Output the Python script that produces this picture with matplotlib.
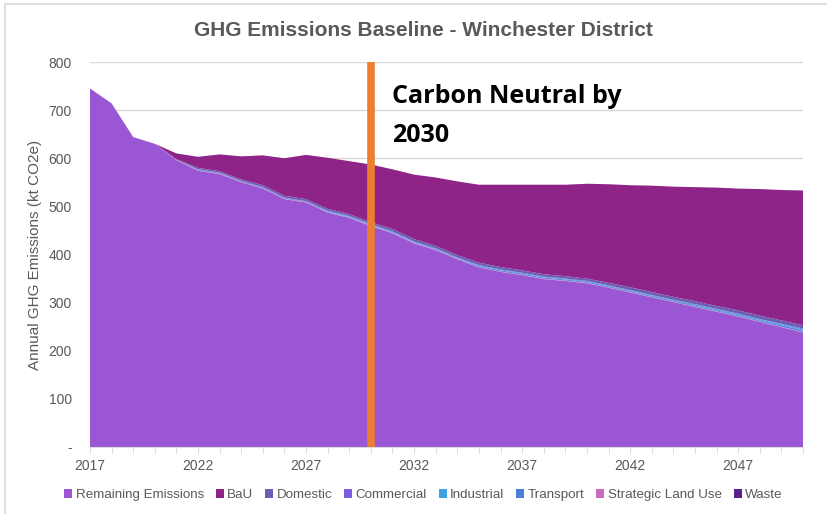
import matplotlib
matplotlib.use("Agg")
import matplotlib.pyplot as plt
from matplotlib.patches import Patch, Rectangle
from matplotlib import font_manager as fm

names = {f.name for f in fm.fontManager.ttflist}
base_font = "Liberation Sans Narrow" if "Liberation Sans Narrow" in names else "Liberation Sans"
plt.rcParams['font.family'] = [base_font, 'DejaVu Sans']

years = list(range(2017, 2051))
remaining = [745, 714, 644, 630, 596, 574, 567, 550, 537, 515, 508, 487, 476, 459, 444, 423, 409,
             390, 373, 364, 357, 349, 345, 340, 331, 321, 311, 301, 291, 281, 271, 260, 249, 238]
strategic_land_use = [0, 0, 0, 0, 1, 1, 1, 1, 1, 1, 1, 1, 1, 1, 1, 1, 1,
                      1, 1, 1, 1, 1, 1, 1, 1, 1, 1, 1, 1, 1, 1, 1, 1, 1]
transport = [0, 0, 0, 0, 0, 1, 1, 1, 1, 1, 1, 1, 1, 1, 1, 1, 1,
             1, 2, 2, 2, 2, 2, 2, 2, 2, 2, 2, 2, 2, 2, 2, 3, 3]
industrial = [0, 0, 0, 0, 0, 0, 0, 0, 0, 0, 0, 1, 1, 1, 1, 1, 1,
              1, 1, 1, 1, 1, 1, 1, 1, 1, 1, 1, 2, 2, 2, 2, 2, 2]
commercial = [0, 0, 0, 0, 0, 1, 1, 1, 1, 1, 1, 1, 1, 1, 1, 1, 1,
              1, 1, 1, 1, 1, 1, 1, 1, 1, 1, 1, 1, 1, 1, 1, 1, 2]
domestic = [0, 0, 0, 0, 1, 3, 3, 3, 4, 4, 4, 4, 4, 4, 5, 5, 5,
            5, 5, 5, 5, 5, 5, 5, 5, 6, 6, 6, 6, 6, 7, 7, 7, 7]
waste = [0] * 34
bau = [0, 0, 0, 0, 12, 23, 35, 48, 62, 78, 92, 106, 110, 120, 124, 134, 142,
       153, 162, 171, 178, 186, 190, 197, 205, 212, 221, 229, 237, 246, 253, 263, 271, 280]

legend_names = ["Remaining Emissions", "BaU", "Domestic", "Commercial", "Industrial",
                "Transport", "Strategic Land Use", "Waste"]
colors = {"Remaining Emissions": "#9b57d3", "BaU": "#8e2488", "Domestic": "#6a5fb5",
          "Commercial": "#7b5ee0", "Industrial": "#3ea0e0", "Transport": "#4a7fd8",
          "Strategic Land Use": "#c86cc0", "Waste": "#5a1f8c"}

target_year = 2030
y_ticks = [0, 100, 200, 300, 400, 500, 600, 700, 800]
y_labels = ["-", "100", "200", "300", "400", "500", "600", "700", "800"]
x_labels = [2017, 2022, 2027, 2032, 2037, 2042, 2047]

fig = plt.figure(figsize=(8.27, 5.14), dpi=100)
fig.patches.append(Rectangle((5 / 827, -0.1), 1.2, 1 - 4 / 514 + 0.1, transform=fig.transFigure,
                             fill=False, edgecolor="#d9d9d9", linewidth=1.2))
ax = fig.add_axes([90 / 827, 1 - 447 / 514, 713 / 827, 385 / 514])

stack_order = [("Remaining Emissions", remaining), ("Strategic Land Use", strategic_land_use),
               ("Transport", transport), ("Industrial", industrial), ("Commercial", commercial),
               ("Domestic", domestic), ("Waste", waste), ("BaU", bau)]
ax.stackplot(years, *[v for _, v in stack_order], colors=[colors[n] for n, _ in stack_order],
             linewidth=0, zorder=2)

ax.axvline(target_year, ymin=0, ymax=1, color="#ed7d31", linewidth=5.5, zorder=4)

ax.set_xlim(years[0], years[-1])
ax.set_ylim(0, 800)
ax.set_yticks(y_ticks)
ax.set_yticklabels(y_labels)
ax.set_xticks(x_labels)
ax.set_xticks(years, minor=True)
ax.set_xticklabels([str(x) for x in x_labels])
ax.tick_params(axis='y', length=0, labelsize=10, labelcolor="#595959", pad=13)
ax.tick_params(axis='x', which='both', length=4, color="#d9d9d9", labelsize=10,
               labelcolor="#595959", pad=5)
ax.grid(axis='y', color="#d9d9d9", linewidth=1, zorder=0)
ax.set_axisbelow(True)
for s in ["top", "right", "left"]:
    ax.spines[s].set_visible(False)
ax.spines["bottom"].set_color("#d9d9d9")

ax.set_ylabel("Annual GHG Emissions (kt CO2e)", fontsize=11, color="#595959", labelpad=5)
fig.text(0.512, 1 - 30 / 514, "GHG Emissions Baseline - Winchester District", ha="center",
         va="center", fontsize=15, fontweight="bold", color="#595959")

ax.text((392 - 90) / 713, 1 - (84 - 62) / 385, "Carbon Neutral by\n2030", transform=ax.transAxes,
        ha="left", va="top", fontsize=18, fontweight="bold", color="black",
        family=["Open Sans", "DejaVu Sans"], linespacing=1.75, zorder=5)

handles = [Patch(facecolor=colors[n], edgecolor="none") for n in legend_names]
leg = fig.legend(handles, legend_names, loc="center", bbox_to_anchor=(0.512, 1 - 495 / 514),
                 ncol=8, frameon=False, fontsize=9.6, handlelength=0.6, handleheight=0.6,
                 handletextpad=0.25, columnspacing=0.9, labelcolor="#595959")

fig.savefig("out.png", dpi=100)
